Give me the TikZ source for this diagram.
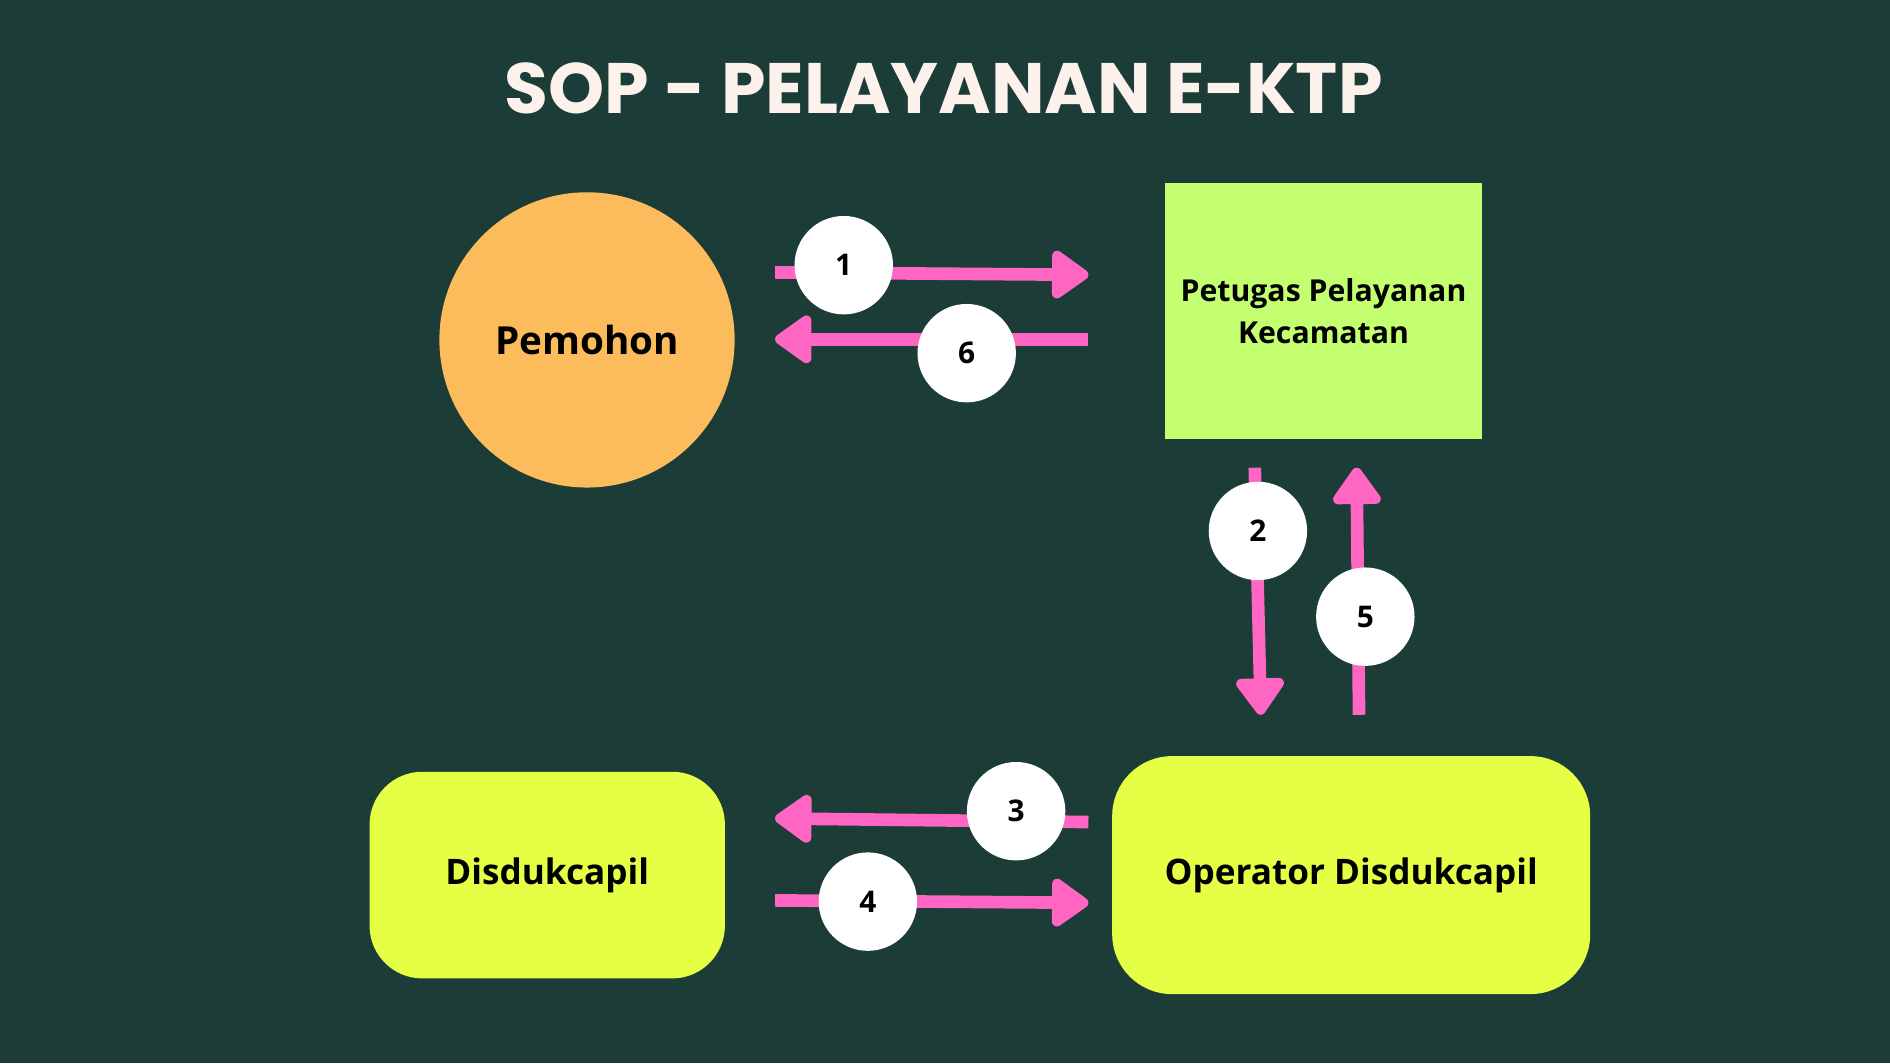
\documentclass[tikz,border=0pt]{standalone}
\usepackage{fontspec}
\setmainfont{Open Sans}
\newfontfamily\titlefont{Poppins}
\usetikzlibrary{arrows.meta}
\definecolor{bgdark}{RGB}{27,60,55}
\definecolor{titlecream}{RGB}{253,241,236}
\definecolor{pemohonorange}{RGB}{253,188,91}
\definecolor{petugasgreen}{RGB}{195,255,110}
\definecolor{dukyellow}{RGB}{229,255,69}
\definecolor{flowpink}{RGB}{255,102,196}

\begin{document}
\begin{tikzpicture}[x=0.120536mm, y=-0.120536mm,
	flow/.style={draw=flowpink, line width=3.6pt, -{Triangle[width=15.5pt,length=11.5pt,round]}},
	num/.style={circle, fill=white, minimum size=28pt, inner sep=0pt, font=\bfseries\fontsize{8.5}{10}\selectfont},
	boxtext/.style={font=\bfseries\fontsize{10}{12}\selectfont, align=center, inner sep=0pt}
	]
	\fill[bgdark] (0,0) rectangle (1568,882);
	\useasboundingbox (0,0) rectangle (1568,882);

	\node[font=\titlefont\bfseries\fontsize{20.3}{24}\selectfont, text=titlecream] (title) at (783,73) {SOP - PELAYANAN E-KTP};

	% actors
	\node[boxtext, font=\bfseries\fontsize{11}{13}\selectfont, circle, fill=pemohonorange, minimum size=84pt] (pemohon) at (487,282) {Pemohon};
	\node[boxtext, font=\bfseries\fontsize{8.6}{11.8}\selectfont, fill=petugasgreen, minimum width=90.2pt, minimum height=73.1pt] (petugas) at (1098,258) {Petugas Pelayanan\\Kecamatan};
	\node[boxtext, fill=dukyellow, rounded corners=15pt, minimum width=101.1pt, minimum height=58.8pt] (disduk) at (454,726) {Disdukcapil};
	\node[boxtext, fill=dukyellow, rounded corners=17pt, minimum width=136pt, minimum height=67.7pt] (operator) at (1121,726) {Operator Disdukcapil};

	% arrow ends
	\coordinate (s1) at (643,226);   \coordinate (e1) at (903,228);
	\coordinate (s6) at (903,281.5); \coordinate (e6) at (643,281.5);
	\coordinate (s2) at (1041,388);  \coordinate (e2) at (1046,593);
	\coordinate (s5) at (1127.5,593);\coordinate (e5) at (1125.5,388);
	\coordinate (s3) at (903,682);   \coordinate (e3) at (643,679);
	\coordinate (s4) at (643,747);   \coordinate (e4) at (903,749);

	\draw[flow] (s1) -- (e1);
	\draw[flow] (s6) -- (e6);
	\draw[flow] (s2) -- (e2);
	\draw[flow] (s5) -- (e5);
	\draw[flow] (s3) -- (e3);
	\draw[flow] (s4) -- (e4);

	% step numbers
	\node[num] (n1) at (700,220) {1};
	\node[num] (n6) at (802,293) {6};
	\node[num] (n2) at (1043.6,440.5) {2};
	\node[num] (n5) at (1132.7,511.6) {5};
	\node[num] (n3) at (843,673) {3};
	\node[num] (n4) at (720,748) {4};
\end{tikzpicture}
\end{document}
